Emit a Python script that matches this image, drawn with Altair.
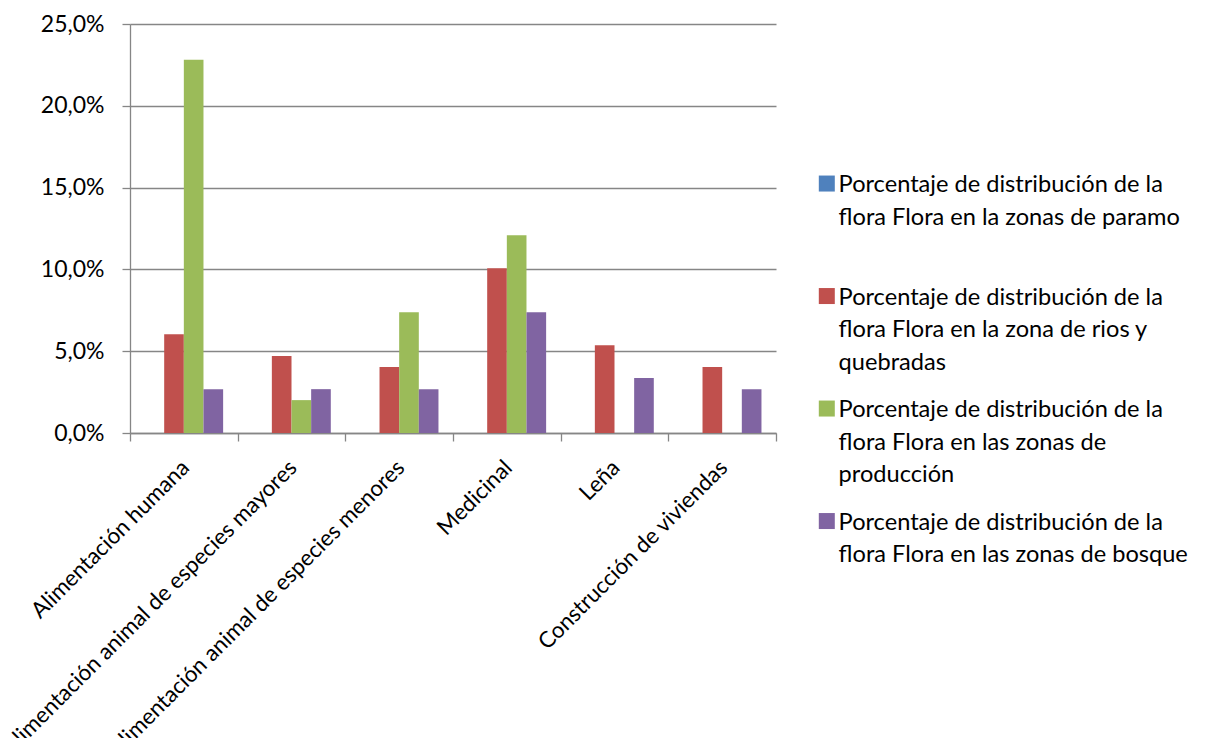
import altair as alt
import pandas as pd

FONT = "Lato"
GRID = "#868686"

categories = [
    "Alimentación humana",
    "Alimentación animal de especies mayores",
    "Alimentación animal de especies menores",
    "Medicinal",
    "Leña",
    "Construcción de viviendas",
]

legend_lines = [
    ["Porcentaje de distribución de la", "flora Flora en la zonas de paramo", ""],
    ["Porcentaje de distribución de la", "flora Flora en la zona de rios y", "quebradas"],
    ["Porcentaje de distribución de la", "flora Flora en las zonas de", "producción"],
    ["Porcentaje de distribución de la", "flora Flora en las zonas de bosque", ""],
]
series = [" ".join(p for p in lines if p) for lines in legend_lines]

paramo = [0.0, 0.0, 0.0, 0.0, 0.0, 0.0]
rios = [0.0604, 0.0470, 0.0403, 0.1007, 0.0537, 0.0403]
produccion = [0.2282, 0.0201, 0.0738, 0.1208, 0.0, 0.0]
bosque = [0.0268, 0.0268, 0.0268, 0.0738, 0.0336, 0.0268]

colors = ["#4F81BD", "#C0504D", "#9BBB59", "#8064A2"]
y_ticks = [0.0, 0.05, 0.10, 0.15, 0.20, 0.25]
boundary_ticks = [0, 1, 2, 3, 4, 5, 6]

rows = []
for s, vals in zip(series, [paramo, rios, produccion, bosque]):
    for c, v in zip(categories, vals):
        rows.append({"categoria": c, "serie": s, "valor": v})
df = pd.DataFrame(rows)
bdf = pd.DataFrame({"b": boundary_ticks})

label_expr = "datum.label"
for s, lines in reversed(list(zip(series, legend_lines))):
    arr = "[" + ", ".join("'" + l + "'" for l in lines) + "]"
    label_expr = f"datum.label == '{s}' ? {arr} : {label_expr}"

legend = alt.Legend(
    orient="none", legendX=685, legendY=137.5, title=None, padding=0,
    symbolType="M-1,0.28H1V2.28H-1Z", symbolSize=256, symbolStrokeWidth=0,
    labelFont=FONT, labelFontSize=23.6, labelColor="#000000",
    labelBaseline="top", labelOffset=0, labelLimit=800,
    rowPadding=11.5, labelExpr=label_expr,
)

bars = alt.Chart(df).mark_bar().encode(
    x=alt.X(
        "categoria:N", sort=categories,
        scale=alt.Scale(paddingInner=0.27, paddingOuter=0.135),
        axis=alt.Axis(
            orient="bottom", title=None, labelAngle=-45, labelFont=FONT,
            labelFontSize=22.4, labelColor="#000000", labelPadding=23,
            labelOffset=-6,
            ticks=False, domain=True, domainColor=GRID, domainWidth=1.3,
            labelLimit=1000, labelOverlap=False,
        ),
    ),
    xOffset=alt.XOffset("serie:N", sort=series),
    y=alt.Y(
        "valor:Q", scale=alt.Scale(domain=[0, 0.25], nice=False),
        axis=alt.Axis(
            title=None, values=y_ticks,
            labelExpr="replace(format(datum.value, '.1%'), '.', ',')",
            labelFont=FONT, labelFontSize=23, labelColor="#000000",
            labelPadding=18, grid=True, gridColor=GRID, gridWidth=1.3,
            tickSize=8, tickColor=GRID, tickWidth=1.3,
            domainColor=GRID, domainWidth=1.3,
        ),
    ),
    color=alt.Color("serie:N", sort=series,
                    scale=alt.Scale(domain=series, range=colors),
                    legend=legend),
)

ticks_layer = alt.Chart(bdf).mark_point(opacity=0).encode(
    x=alt.X(
        "b:Q", scale=alt.Scale(domain=[0, 6], nice=False, zero=False),
        axis=alt.Axis(
            orient="bottom", values=boundary_ticks, labels=False,
            grid=False, domain=False, ticks=True, tickSize=8,
            tickColor=GRID, tickWidth=1.3, title=None,
        ),
    ),
    y=alt.value(0),
)

chart = alt.layer(bars, ticks_layer).resolve_scale(x="independent").properties(
    width=646, height=409,
    padding={"left": 122, "top": 16, "right": 423, "bottom": 305},
    autosize=alt.AutoSizeParams(type="none"),
    background="white",
).configure(
    style={"guide-label": {"lineHeight": 32.5}},
    view=alt.ViewConfig(stroke=None),
)

chart.save("out.html", embed_options={"renderer": "svg", "actions": False})
